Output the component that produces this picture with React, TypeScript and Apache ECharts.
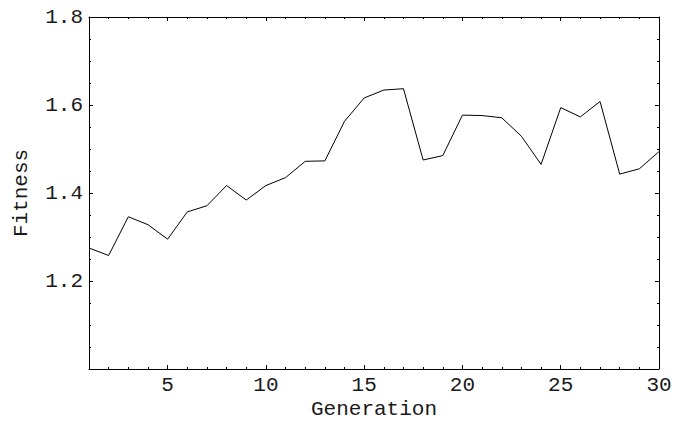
import React, { useEffect, useRef } from "react";
import * as echarts from "echarts";

const generations: number[] = [1, 2, 3, 4, 5, 6, 7, 8, 9, 10, 11, 12, 13, 14, 15, 16, 17, 18, 19, 20, 21, 22, 23, 24, 25, 26, 27, 28, 29, 30];
const fitness: number[] = [1.275, 1.258, 1.346, 1.328, 1.295, 1.357, 1.371, 1.417, 1.384, 1.417, 1.435, 1.472, 1.473, 1.563, 1.616, 1.634, 1.637, 1.475, 1.485, 1.577, 1.576, 1.571, 1.529, 1.465, 1.594, 1.573, 1.608, 1.443, 1.455, 1.494];
const xMajorTicks: number[] = [5, 10, 15, 20, 25, 30];

const FONT = "'Liberation Mono', 'DejaVu Sans Mono', monospace";
const FS = 21;
const NAME_FS = 21;
const INK = "#000";
const TEXT = "#1a1a1a";

export default function App() {
  const ref = useRef<HTMLDivElement>(null);
  useEffect(() => {
    if (!ref.current) return;
    const chart = echarts.init(ref.current, null, { renderer: "svg" });
    const lineStyle = { color: INK, width: 1 };
    const xBase = (pos: string, labels: boolean) => ({
      type: "value",
      position: pos,
      min: 1,
      max: 30,
      interval: 1,
      axisLine: { show: true, onZero: false, lineStyle },
      axisTick: { show: true, inside: true, length: 2, lineStyle },
      axisLabel: labels
        ? { show: true, customValues: xMajorTicks, fontFamily: FONT, fontSize: FS, color: TEXT, margin: 6 }
        : { show: false },
      splitLine: { show: false },
    });
    const xMajor = (pos: string) => ({
      type: "value",
      position: pos,
      min: 1,
      max: 30,
      interval: 1,
      axisLine: { show: false, onZero: false },
      axisTick: { show: true, inside: true, length: 4, lineStyle, customValues: xMajorTicks },
      axisLabel: { show: false },
      splitLine: { show: false },
    });
    const yAxis = (pos: string, labels: boolean) => ({
      type: "value",
      position: pos,
      min: 1.0,
      max: 1.8,
      interval: 0.2,
      axisLine: { show: true, onZero: false, lineStyle },
      axisTick: { show: true, inside: true, length: 4, lineStyle },
      minorTick: { show: true, splitNumber: 4, length: 2, lineStyle },
      axisLabel: labels
        ? { show: true, showMinLabel: false, fontFamily: FONT, fontSize: FS, color: TEXT, margin: 6, formatter: (v: number) => v.toFixed(1) }
        : { show: false },
      splitLine: { show: false },
      minorSplitLine: { show: false },
    });
    const xMain: any = xBase("bottom", true);
    xMain.name = "Generation";
    xMain.nameLocation = "middle";
    xMain.nameGap = 30;
    xMain.nameMoveOverlap = false;
    xMain.nameTextStyle = { fontFamily: FONT, fontSize: NAME_FS, color: TEXT };
    const yMain: any = yAxis("left", true);
    yMain.name = "Fitness";
    yMain.nameLocation = "middle";
    yMain.nameGap = 57;
    yMain.nameMoveOverlap = false;
    yMain.nameTextStyle = { fontFamily: FONT, fontSize: NAME_FS, color: TEXT };
    chart.setOption({
      animation: false,
      backgroundColor: "#fff",
      grid: { left: 89, top: 17, right: 26, bottom: 52, containLabel: false, outerBoundsMode: "none" },
      xAxis: [xMain, xBase("top", false), xMajor("bottom"), xMajor("top")],
      yAxis: [yMain, yAxis("right", false)],
      series: [
        {
          type: "line",
          xAxisIndex: 0,
          yAxisIndex: 0,
          data: generations.map((g, i) => [g, fitness[i]]),
          showSymbol: false,
          symbol: "none",
          lineStyle: { color: INK, width: 1 },
        },
      ],
    });
    return () => chart.dispose();
  }, []);
  return <div ref={ref} style={{ position: "absolute", left: 0, top: 0, width: 685, height: 421 }} />;
}
